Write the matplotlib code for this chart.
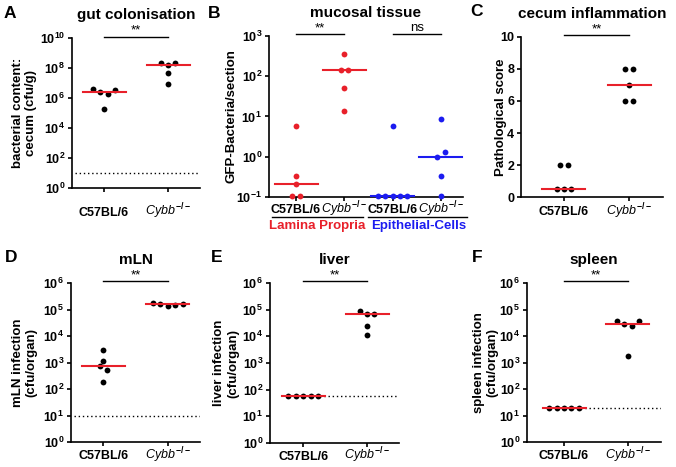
import numpy as np
import matplotlib
matplotlib.use('Agg')
import matplotlib.pyplot as plt
import matplotlib.transforms as mtransforms
from matplotlib.ticker import FuncFormatter, NullLocator

plt.rcParams['font.family'] = ['Liberation Sans', 'DejaVu Sans']
plt.rcParams['font.weight'] = 'bold'
plt.rcParams['mathtext.fontset'] = 'custom'
plt.rcParams['mathtext.bf'] = 'Liberation Sans:weight=bold'
plt.rcParams['mathtext.rm'] = 'Liberation Sans:weight=bold'
plt.rcParams['mathtext.it'] = 'Liberation Sans:slant=italic:weight=normal'

## data (listed left to right as drawn)
groups = ['C57BL/6', r'$Cybb^{-/-}$']

gut_c57 = [3.8e6, 2.4e6, 1.9e6, 3.4e6, 1.8e5]
gut_cybb = [2.0e8, 1.6e8, 2.0e8, 4.5e7, 8.5e6]
gut_lod = 10

lp_c57 = [5.7, 0.33, 0.21, 0.105, 0.105]
lp_cybb = [350, 140, 140, 52, 13.5]
ec_c57 = [5.7, 0.105, 0.105, 0.105, 0.105, 0.105]
ec_cybb = [8.9, 1.0, 1.3, 0.33, 0.105]
tissues = ['Lamina Propria', 'Epithelial-Cells']

infl_c57 = [2, 2, 0.5, 0.5, 0.5]
infl_cybb = [8, 8, 7, 6, 6]

mln_c57 = [2950, 1140, 760, 510, 180]
mln_cybb = [1.8e5, 1.6e5, 1.4e5, 1.45e5, 1.6e5]
mln_lod = 10

liver_c57 = [60, 60, 60, 60, 60]
liver_cybb = [8.9e4, 6.7e4, 6.9e4, 2.5e4, 1.1e4]
liver_lod = 60

spleen_c57 = [20, 20, 20, 20, 20]
spleen_cybb = [3.6e4, 2.9e4, 2.4e4, 3.6e4, 1.8e3]
spleen_lod = 20

RED = '#e8202a'
BLUE = '#1c1cf0'

W, H = 676, 467
fig = plt.figure(figsize=(W / 100, H / 100), dpi=100)


def make_axes(l, t, r, b):
    return fig.add_axes([l / W, (H - b) / H, (r - l) / W, (b - t) / H])


def px_x(ax):
    x0, x1 = ax.get_xlim()
    return (x1 - x0) / ax.bbox.width


def swarm(ax, xc, vals, step=7.4, tol=5.5):
    # points that sit within a dot of each other go side by side
    vals = np.asarray(vals, dtype=float)
    ys = ax.transData.transform(np.column_stack([np.full(len(vals), xc), vals]))[:, 1]
    order = np.argsort(ys, kind='stable')
    rows = []
    for i in order:
        if rows and ys[i] - ys[rows[-1][0]] < tol:
            rows[-1].append(i)
        else:
            rows.append([i])
    xs = np.full(len(vals), float(xc))
    for row in rows:
        row = sorted(row)
        n = len(row)
        for j, i in enumerate(row):
            xs[i] = xc + (j - (n - 1) / 2) * step * px_x(ax)
    return xs


def group(ax, xc, vals, dot_c='black', med_c=RED):
    xs = swarm(ax, xc, vals)
    ax.plot(xs, vals, 'o', color=dot_c, ms=4.2, mew=0, clip_on=False, zorder=3)
    half = 21.5 * px_x(ax)
    med = np.median(vals)
    ax.plot([xc - half, xc + half], [med, med], color=med_c, lw=1.5, zorder=4,
            clip_on=False)


def setup(ax, xlim, ylim, yticks, log=True, xlabels=groups, xpad=9.4):
    ax.set_xlim(xlim)
    if log:
        ax.set_yscale('log')
    ax.set_ylim(ylim)
    ax.set_yticks(yticks)
    if log:
        ax.yaxis.set_major_formatter(FuncFormatter(
            lambda v, p: r'$\mathbf{10^{%d}}$' % round(np.log10(v))))
        ax.yaxis.set_minor_locator(NullLocator())
    ax.set_xticks(range(len(xlabels)))
    ax.set_xticklabels(xlabels)
    for s in ['top', 'right']:
        ax.spines[s].set_visible(False)
    for s in ['left', 'bottom']:
        ax.spines[s].set_linewidth(1.2)
    ax.tick_params(direction='out', length=3, width=1.2, labelsize=9, pad=2)
    ax.tick_params(axis='x', pad=xpad)
    # labels sit on one baseline, so the superscript does not push Cybb down
    for lab in ax.get_xticklabels():
        lab.set_verticalalignment('baseline')
        if 'Cybb' in lab.get_text():
            lab.set_fontweight('normal')


def sig(ax, x0, x1, text='**'):
    tr = mtransforms.blended_transform_factory(ax.transData, ax.transAxes)
    ax.plot([x0, x1], [1.01, 1.01], color='black', lw=1, transform=tr, clip_on=False)
    ax.text((x0 + x1) / 2, 1.01, text, transform=tr, ha='center', va='bottom',
            fontsize=9.5, fontweight='normal')


def lod(ax, y, x0=None):
    if x0 is None:
        x0 = ax.get_xlim()[0] + 0.05
    ax.plot([x0, ax.get_xlim()[1]], [y, y], color='black', lw=1, ls=(0, (1, 2)),
            zorder=1)


def labels(ax, title, ylabel, lx):
    ax.set_title(title, fontsize=11, fontweight='bold', pad=14)
    ax.set_ylabel(ylabel, fontsize=9.5, fontweight='bold')
    ax.yaxis.set_label_coords(lx, 0.5)


## A gut colonisation
axA = make_axes(72, 38, 200, 188)
setup(axA, (-0.5, 1.5), (1, 1e10), [1e0, 1e2, 1e4, 1e6, 1e8, 1e10], xpad=17)
lod(axA, gut_lod)
group(axA, 0, gut_c57)
group(axA, 1, gut_cybb)
sig(axA, 0, 1)
labels(axA, 'gut colonisation', 'bacterial content:\ncecum (cfu/g)', -0.27)

## B mucosal tissue
axB = make_axes(269, 36, 463, 197)
setup(axB, (-0.56, 3.46), (0.1, 1000), [0.1, 1, 10, 100, 1000],
      xlabels=groups + groups, xpad=8.6)
group(axB, 0, lp_c57, RED, RED)
group(axB, 1, lp_cybb, RED, RED)
group(axB, 2, ec_c57, BLUE, BLUE)
group(axB, 3, ec_cybb, BLUE, BLUE)
sig(axB, 0, 1)
sig(axB, 2, 3, 'ns')
labels(axB, 'mucosal tissue', 'GFP-Bacteria/section', -0.16)
trB = mtransforms.blended_transform_factory(axB.transData, axB.transAxes)
for (x0, x1, xc), name, col in zip([(-0.5, 1.39, 0.43), (1.49, 3.55, 2.55)],
                                   tissues, [RED, BLUE]):
    axB.plot([x0, x1], [-0.124, -0.124], color='black', lw=1, transform=trB,
             clip_on=False)
    axB.text(xc, -0.178, name, color=col, fontsize=9.5, fontweight='bold',
             ha='center', va='center', transform=trB)

## C cecum inflammation
axC = make_axes(521, 37, 663, 197)
setup(axC, (-0.66, 1.52), (0, 10), [0, 2, 4, 6, 8, 10], log=False, xpad=10)
group(axC, 0, infl_c57)
group(axC, 1, infl_cybb)
sig(axC, 0, 1)
labels(axC, 'cecum inflammation', 'Pathological score', -0.10)

## D mLN
axD = make_axes(71, 283, 200, 442)
setup(axD, (-0.5, 1.5), (1, 1e6), [1e0, 1e1, 1e2, 1e3, 1e4, 1e5, 1e6])
lod(axD, mln_lod)
group(axD, 0, mln_c57)
group(axD, 1, mln_cybb)
sig(axD, 0, 1)
labels(axD, 'mLN', 'mLN infection\n(cfu/organ)', -0.26)

## E liver
axE = make_axes(270, 283, 399, 443)
setup(axE, (-0.52, 1.5), (1, 1e6), [1e0, 1e1, 1e2, 1e3, 1e4, 1e5, 1e6], xpad=9)
lod(axE, liver_lod, x0=0)
group(axE, 0, liver_c57)
group(axE, 1, liver_cybb)
sig(axE, 0, 1)
labels(axE, 'liver', 'liver infection\n(cfu/organ)', -0.24)

## F spleen
axF = make_axes(527, 283, 661, 442)
setup(axF, (-0.58, 1.52), (1, 1e6), [1e0, 1e1, 1e2, 1e3, 1e4, 1e5, 1e6])
lod(axF, spleen_lod, x0=0)
group(axF, 0, spleen_c57)
group(axF, 1, spleen_cybb)
sig(axF, 0, 1)
labels(axF, 'spleen', 'spleen infection\n(cfu/organ)', -0.21)

## panel letters
for letter, (x, y) in zip('ABCDEF', [(4, 13), (208, 13), (470, 12),
                                     (5, 258), (211, 258), (472, 258)]):
    fig.text(x / W, 1 - y / H, letter, fontsize=12.5, fontweight='bold',
             ha='left', va='center')

fig.savefig('out.png', dpi=100)
